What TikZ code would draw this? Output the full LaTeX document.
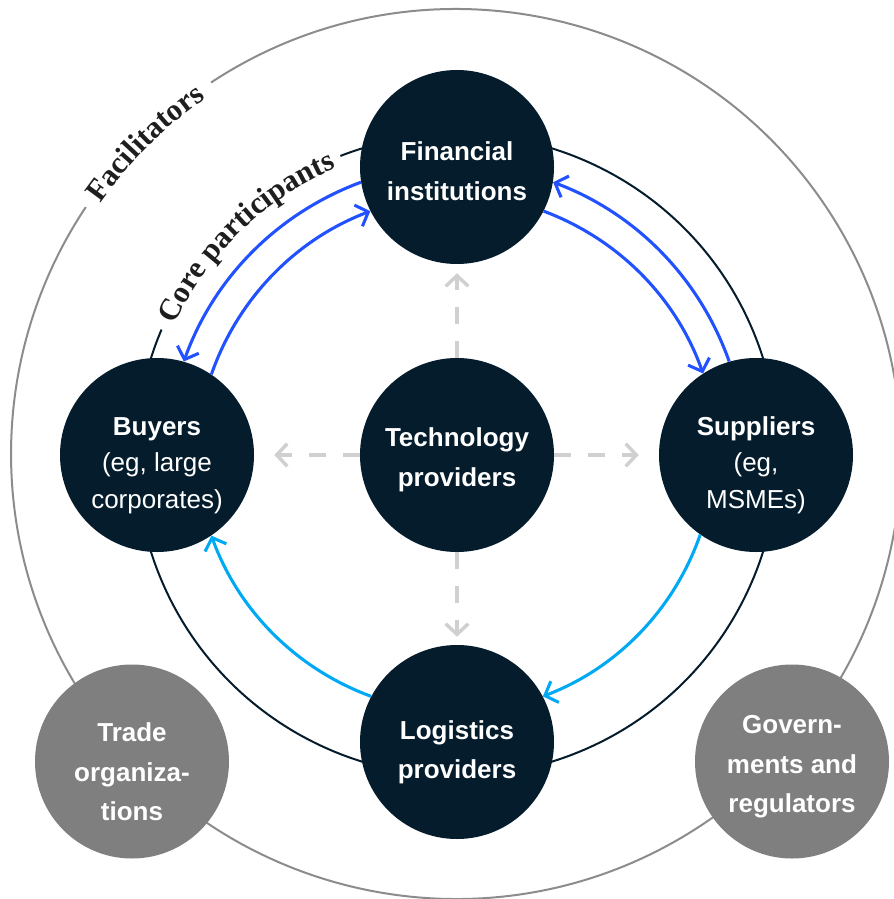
\documentclass[tikz,border=0pt]{standalone}
\usepackage{fontspec}
\setmainfont{Liberation Sans}
\newfontfamily\capserif{Liberation Serif}
\usetikzlibrary{arrows.meta,decorations.text}
\definecolor{navy}{HTML}{051C2C}
\definecolor{nodegray}{HTML}{7F7F7F}
\definecolor{flowblue}{HTML}{2251FF}
\definecolor{flowcyan}{HTML}{00A9F4}
\definecolor{dashgray}{HTML}{D0D0D0}
\definecolor{ringgray}{HTML}{8C8C8C}
\definecolor{labelink}{HTML}{1E1E1E}
\newcommand{\strutup}[1]{\rule{0pt}{#1}}
\begin{document}
\begin{tikzpicture}[x=0.75pt,y=0.75pt,
  core/.style={circle, fill=navy, text=white, minimum size=145.5pt, inner sep=0pt, align=center,
    font=\bfseries\fontsize{19.5pt}{29.5pt}\selectfont},
  coretwo/.style={core, font=\bfseries\fontsize{19.5pt}{27.5pt}\selectfont},
  facil/.style={core, fill=nodegray},
  flow/.style={line width=2.3pt, -{Straight Barb[length=8pt,width=17pt]}, looseness=0.9},
  techarrow/.style={draw=dashgray, line width=2.6pt, dash pattern=on 12.75pt off 12.75pt,
    -{Straight Barb[length=8pt,width=17pt]}},
  ringlabel/.style={decorate, decoration={text along path, text align=center, text color=labelink,
    text={|\capserif\bfseries\fontsize{23pt}{24pt}\selectfont|#1}}}
]
\useasboundingbox (0,0) rectangle (893,-899);
\fill[white] (0,0) rectangle (893,-899);
\coordinate (Oo) at (456,-454);
\coordinate (O) at (457,-455);
% outer facilitators ring
\draw[ringgray, line width=1.5pt] ([shift={(123.4:445)}]Oo) arc[start angle=123.4, end angle=-213.7, radius=445];
\path[ringlabel=Facilitators] ([shift={(152:435)}]Oo) arc[start angle=152, end angle=118, radius=435];
% inner core ring
\draw[navy, line width=1.5pt] ([shift={(111.3:321)}]O) arc[start angle=111.3, end angle=-203, radius=321];
\path[ringlabel=Core participants] ([shift={(161:311)}]O) arc[start angle=161, end angle=107, radius=311];
% nodes
\node[core] (fin) at (457,-167) {\strutup{20.5pt}Financial\\institutions};
\node[core] (tec) at (457,-455) {\strutup{21.1pt}Technology\\providers};
\node[coretwo] (buy) at (157,-455) {\strutup{29.2pt}Buyers\\{\mdseries (eg, large}\\{\mdseries corporates)}};
\node[coretwo] (sup) at (756,-455) {\strutup{29.2pt}Suppliers\\{\mdseries (eg,}\\{\mdseries MSMEs)}};
\node[core] (log) at (457,-742) {\strutup{29.1pt}Logistics\\providers};
\node[facil] (tra) at (132,-761.5) {\strutup{29.7pt}Trade\\organiza-\\tions};
\node[facil] (gov) at (792,-761.5) {\strutup{21.8pt}Govern-\\ments and\\regulators};
% flows
\draw[flow, flowblue] (fin.189) to[bend right=25] (buy.74);
\draw[flow, flowblue] (buy.56) to[bend left=25] (fin.207);
\draw[flow, flowblue] (fin.333) to[bend left=25] (sup.123);
\draw[flow, flowblue] (sup.106) to[bend right=25] (fin.351);
\draw[flow, flowcyan] (sup.235) to[bend left=25] (log.28);
\draw[flow, flowcyan] (log.152) to[bend left=25] (buy.304);
% technology links
\draw[techarrow, shorten >=6.75pt] (tec.north) -- (fin.south);
\draw[techarrow, shorten >=15pt] (tec.west) -- (buy.east);
\draw[techarrow, shorten >=15pt] (tec.east) -- (sup.west);
\draw[techarrow, shorten >=6pt] (tec.south) -- (log.north);
\end{tikzpicture}
\end{document}
